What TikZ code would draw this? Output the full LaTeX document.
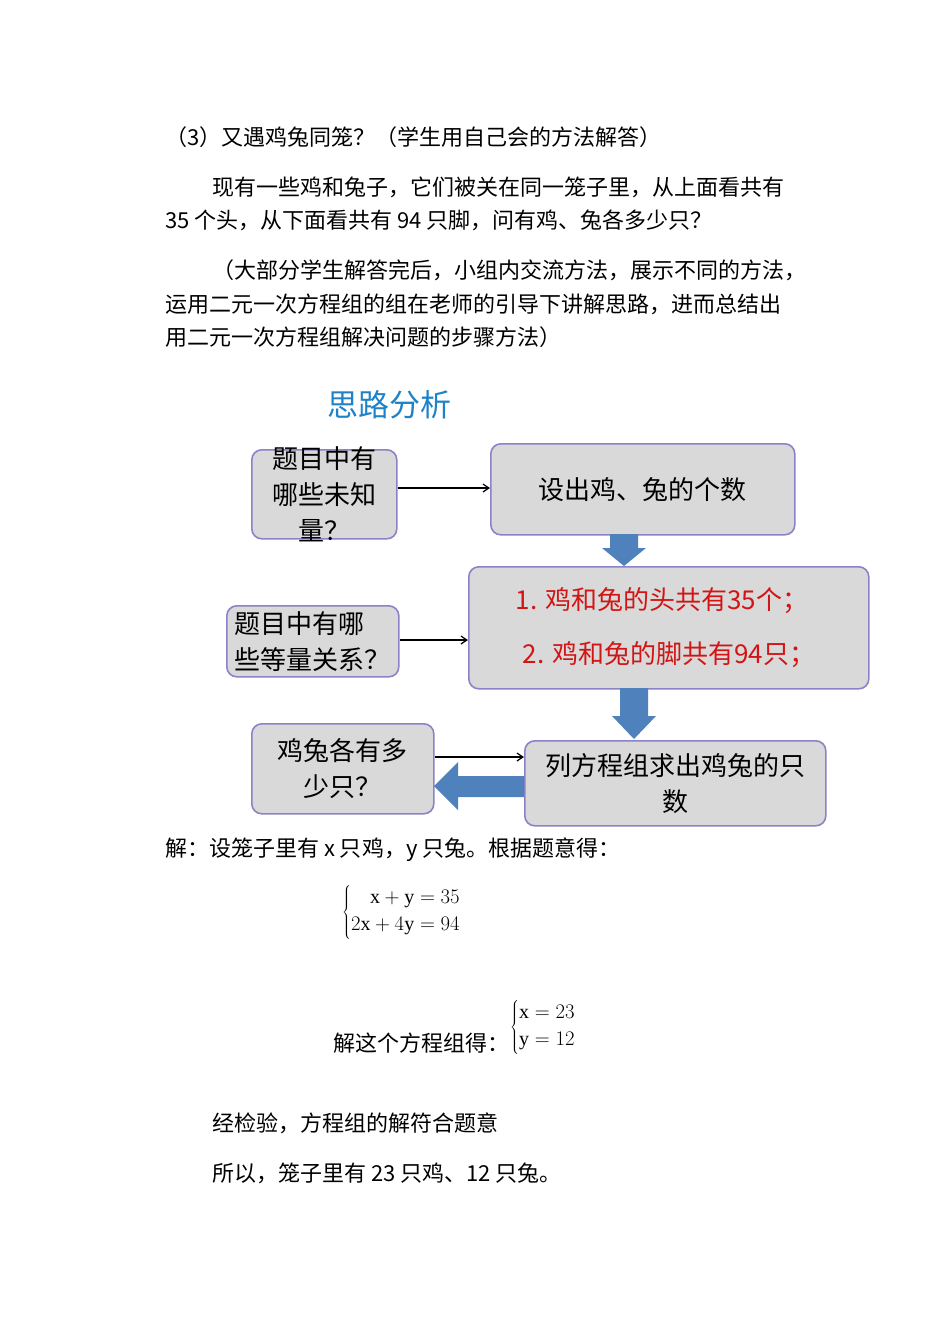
\documentclass[tikz,border=0pt]{standalone}
\usepackage{fontspec}
\newfontfamily\cjk{Noto Sans CJK SC}
\setmainfont{Liberation Serif}
\usetikzlibrary{arrows.meta}
\definecolor{boxfill}{RGB}{217,217,217}
\definecolor{boxdraw}{RGB}{140,130,200}
\definecolor{blk}{RGB}{79,129,189}
\definecolor{ttl}{RGB}{30,130,200}
\definecolor{rd}{RGB}{210,20,20}
\begin{document}
\begin{tikzpicture}[x=1pt,y=-1pt,
  body/.style={anchor=west,inner sep=0pt,font=\fontsize{22}{24}\selectfont\cjk},
  fbox/.style={draw=boxdraw,line width=1.6pt,fill=boxfill,rounded corners=10pt,anchor=north west,inner sep=0pt},
  ftext/.style={align=center,inner sep=0pt,font=\fontsize{26}{36}\selectfont\cjk},
  thin/.style={-{Straight Barb[length=6pt,width=8pt]},line width=1.2pt},
  blkarrow/.style={fill=blk,draw=none}]
\useasboundingbox (0,0) rectangle (950,1344);
\node[body] (l1) at (165,137) {（3）又遇鸡兔同笼？（学生用自己会的方法解答）};
\node[body] (l2) at (212,187) {现有一些鸡和兔子，它们被关在同一笼子里，从上面看共有};
\node[body] (l3) at (165,220) {35 个头，从下面看共有 94 只脚，问有鸡、兔各多少只？};
\node[body] (l4) at (212,270) {（大部分学生解答完后，小组内交流方法，展示不同的方法，};
\node[body] (l5) at (165,304) {运用二元一次方程组的组在老师的引导下讲解思路，进而总结出};
\node[body] (l6) at (165,337) {用二元一次方程组解决问题的步骤方法）};
\node[inner sep=0pt,text=ttl,font=\fontsize{31}{34}\selectfont\cjk] (title) at (389,405) {思路分析};
% boxes
\node[fbox,minimum width=145,minimum height=89] (A) at (251,449) {};
\node[ftext] at (A.center) {题目中有\\哪些未知\\量？};
\node[fbox,minimum width=304,minimum height=91] (B) at (490,443) {};
\node[ftext] at (B.center) {设出鸡、兔的个数};
\node[fbox,minimum width=400,minimum height=122] (C) at (468,566) {};
\node[ftext,text=rd,anchor=center] (c1) at (662,601) {1. 鸡和兔的头共有35个；};
\node[ftext,text=rd,anchor=center] (c2) at (669,655) {2. 鸡和兔的脚共有94只；};
\node[fbox,minimum width=172,minimum height=71] (D) at (226,605) {};
\node[ftext,align=left] at (D.center) {题目中有哪\\些等量关系？};
\node[fbox,minimum width=182,minimum height=90] (E) at (251,723) {};
\node[ftext] at (E.center) {鸡兔各有多\\少只？};
\node[fbox,minimum width=301,minimum height=85] (F) at (524,740) {};
\node[ftext] at (F.center) {列方程组求出鸡兔的只\\数};
% block arrows
\fill[blkarrow] (610,534) -- (638,534) -- (638,548) -- (646,548) -- (624,566) -- (602,548) -- (610,548) -- cycle;
\fill[blkarrow] (620,688) -- (648,688) -- (648,716) -- (656,716) -- (634,739) -- (612,716) -- (620,716) -- cycle;
\fill[blkarrow] (F.west |- 0,776) -- (458,776) -- (458,762) -- (434,786) -- (458,810) -- (458,797) -- (F.west |- 0,797) -- cycle;
% thin arrows
\draw[thin] (A.east |- 0,488) -- (B.west |- 0,488);
\draw[thin] (D.east |- 0,640) -- (C.west |- 0,640);
\draw[thin] (E.east |- 0,757) -- (F.west |- 0,757);
% solution
\node[body] (s1) at (165,850) {解：设笼子里有 x 只鸡，y 只兔。根据题意得：};
\node[anchor=west,inner sep=0pt,font=\fontsize{20}{27}\selectfont] (eq1) at (342,912) {$\left\{\begin{array}{@{}r@{\;}l@{}}\mathrm{x}+\mathrm{y}&=35\\2\mathrm{x}+4\mathrm{y}&=94\end{array}\right.$};
\node[body] (s2) at (333,1043) {解这个方程组得：};
\node[anchor=west,inner sep=0pt,font=\fontsize{20}{27}\selectfont] (eq2) at (510,1027) {$\left\{\begin{array}{@{}l@{}}\mathrm{x}=23\\\mathrm{y}=12\end{array}\right.$};
\node[body] (s3) at (212,1123) {经检验，方程组的解符合题意};
\node[body] (s4) at (212,1173) {所以，笼子里有 23 只鸡、12 只兔。};
\end{tikzpicture}
\end{document}
